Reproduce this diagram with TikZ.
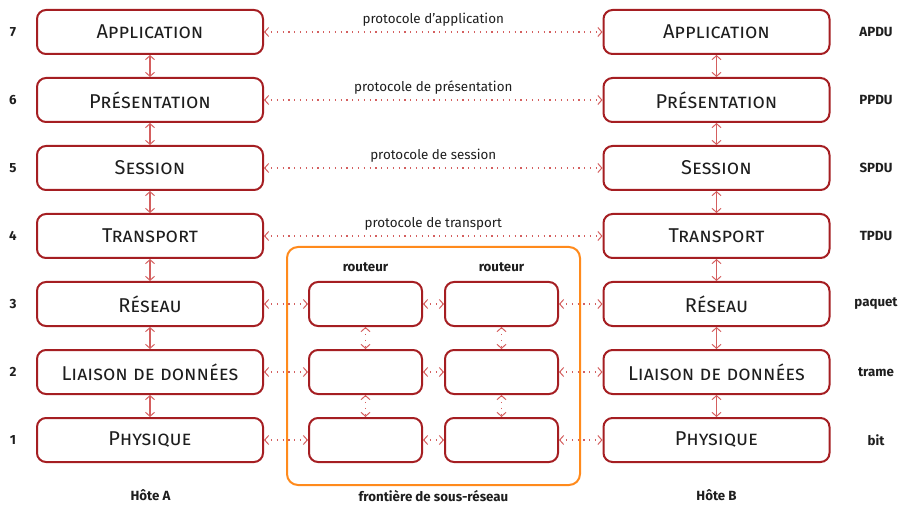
\documentclass[tikz,border=0pt]{standalone}
\usepackage{fontspec}
\setmainfont{Fira Sans}
\usetikzlibrary{arrows.meta}
\definecolor{layerred}{HTML}{A51E22}
\definecolor{linkred}{HTML}{D45F5F}
\definecolor{subnet}{HTML}{FF8A1C}
\definecolor{ink}{HTML}{1E1E1E}
\begin{document}
\begin{tikzpicture}[x=1pt,y=-1pt,
  layer/.style={draw=layerred, line width=2pt, rounded corners=9pt,
    minimum width=226pt, minimum height=44pt, inner sep=0pt, fill=white,
    font=\fontsize{20}{23}\selectfont\scshape, text=ink},
  router/.style={layer, minimum width=113pt},
  tag/.style={font=\fontsize{13.3}{15}\selectfont\bfseries, text=ink},
  proto/.style={font=\fontsize{13.4}{15}\selectfont, text=ink},
  peer/.style={draw=linkred, line width=1.2pt, dash pattern=on 1.2pt off 4.6pt,
    {Straight Barb[length=4pt,width=9pt,line width=1pt]}-{Straight Barb[length=4pt,width=9pt,line width=1pt]}},
  stack/.style={draw=linkred, line width=1.4pt,
    {Straight Barb[length=4pt,width=9pt,line width=1pt]}-{Straight Barb[length=4pt,width=9pt,line width=1pt]}}
]
\useasboundingbox (0,0) rectangle (900,505);

% sub-network boundary
\draw[subnet, line width=2pt, rounded corners=11pt] (287,247) rectangle (580,485);

% host A stack
\node[layer] (a7) at (150,32) {Application};
\node[layer] (a6) at (150,100) {Présentation};
\node[layer] (a5) at (150,168) {Session};
\node[layer] (a4) at (150,236) {Transport};
\node[layer] (a3) at (150,304) {Réseau};
\node[layer] (a2) at (150,372) {Liaison de données};
\node[layer] (a1) at (150,440) {Physique};

% host B stack
\node[layer] (b7) at (716.5,32) {Application};
\node[layer] (b6) at (716.5,100) {Présentation};
\node[layer] (b5) at (716.5,168) {Session};
\node[layer] (b4) at (716.5,236) {Transport};
\node[layer] (b3) at (716.5,304) {Réseau};
\node[layer] (b2) at (716.5,372) {Liaison de données};
\node[layer] (b1) at (716.5,440) {Physique};

% routers
\node[router] (r3) at (365.5,304) {};
\node[router] (r2) at (365.5,372) {};
\node[router] (r1) at (365.5,440) {};
\node[router] (s3) at (501.5,304) {};
\node[router] (s2) at (501.5,372) {};
\node[router] (s1) at (501.5,440) {};
\node[tag] (rl) at (365.5,267) {routeur};
\node[tag] (sl) at (501.5,267) {routeur};

% layer numbers
\foreach \n/\y in {7/32,6/100,5/168,4/236,3/304,2/372,1/440}
  \node[tag] (n\n) at (13,\y) {\n};

% data units
\node[tag] (u7) at (876,32) {APDU};
\node[tag] (u6) at (876,100) {PPDU};
\node[tag] (u5) at (876,168) {SPDU};
\node[tag] (u4) at (876,236) {TPDU};
\node[tag] (u3) at (876,304) {paquet};
\node[tag] (u2) at (876,372) {trame};
\node[tag] (u1) at (876,440) {bit};

% captions
\node[tag] (ha) at (150.5,495) {Hôte A};
\node[tag] (hb) at (716.5,495) {Hôte B};
\node[tag, inner sep=1pt] (fr) at (433.5,496) {frontière de sous-réseau};

% vertical links inside each host
\foreach \u/\l in {7/6,6/5,5/4,4/3,3/2,2/1} {
  \draw[stack] (a\u) -- (a\l);
  \draw[stack] (b\u) -- (b\l);
}
% vertical links inside routers
\foreach \u/\l in {3/2,2/1} {
  \draw[peer] (r\u) -- (r\l);
  \draw[peer] (s\u) -- (s\l);
}

% peer protocols
\draw[peer] (a7) -- node[proto, above=1.5pt] (p7) {protocole d’application} (b7);
\draw[peer] (a6) -- node[proto, above=1.5pt] (p6) {protocole de présentation} (b6);
\draw[peer] (a5) -- node[proto, above=1.5pt] (p5) {protocole de session} (b5);
\draw[peer] (a4) -- node[proto, above=1.5pt] (p4) {protocole de transport} (b4);

% hop-by-hop links through the sub-network
\foreach \i in {3,2,1} {
  \draw[peer] (a\i) -- (r\i);
  \draw[peer] (r\i) -- (s\i);
  \draw[peer] (s\i) -- (b\i);
}
\end{tikzpicture}
\end{document}
